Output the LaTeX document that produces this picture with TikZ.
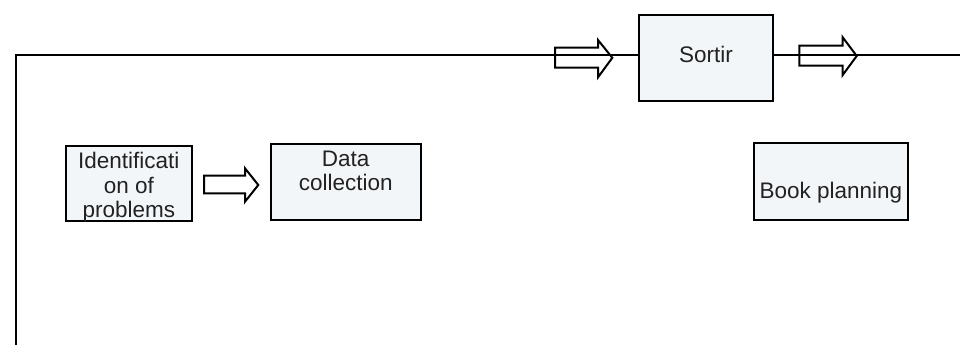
\documentclass[tikz,border=0pt]{standalone}
\usepackage{fontspec}
\setmainfont{Liberation Sans}
\definecolor{boxfill}{HTML}{F3F6F8}
\definecolor{inkgray}{HTML}{222222}
\begin{document}
\begin{tikzpicture}[x=1pt,y=-1pt,
  line join=miter,
  stagebox/.style={draw=black, fill=boxfill, line width=2pt, inner sep=0pt, rectangle},
  stagetext/.style={anchor=north, inner sep=0pt, align=center, text=inkgray,
    font=\fontsize{22.5}{24.6}\selectfont},
  flowline/.style={draw=black, line width=2pt},
  blockarrow/.style={draw=black, line width=2pt}]
\useasboundingbox (0,0) rectangle (960,345);

% process boxes
\node[stagebox, minimum width=133.4pt, minimum height=86pt]   (sort) at (706,58) {};
\node[stagebox, minimum width=125.7pt, minimum height=74.7pt] (ident) at (128.85,183.35) {};
\node[stagebox, minimum width=150pt,   minimum height=76pt]   (data) at (345.7,182) {};
\node[stagebox, minimum width=153.7pt, minimum height=76.7pt] (book) at (830.85,181.65) {};

% box captions
\node[stagetext] (sorttxt)  at (706,46.3)     {Sortir};
\node[stagetext] (identtxt) at (128.85,152.2) {Identificati\\on of\\problems};
\node[stagetext] (datatxt)  at (345.7,150.4)  {Data\\collection};
\node[stagetext] (booktxt)  at (830.85,182.4) {Book planning};

% main flow line
\coordinate (lineend) at (960,55);
\coordinate (corner) at (15.5,55);
\coordinate (linebottom) at (15.5,345);
\draw[flowline] (sort.east |- lineend) -- (lineend);
\draw[flowline] (sort.west |- lineend) -- (corner) -- (linebottom);

% hollow block arrows
\draw[blockarrow] (555,47.7) -- (598,47.7) -- (598,40) -- (612.3,57.8) -- (598,77.3)
  -- (598,67.7) -- (555,67.7) -- cycle;
\draw[blockarrow] (799.3,45.7) -- (842.7,45.7) -- (842.7,37.3) -- (856.7,56) -- (842.7,75)
  -- (842.7,65.7) -- (799.3,65.7) -- cycle;
\draw[blockarrow] (204,175.7) -- (245,175.7) -- (245,168.3) -- (258.3,185) -- (245,201.7)
  -- (245,193.3) -- (204,193.3) -- cycle;
\end{tikzpicture}
\end{document}
